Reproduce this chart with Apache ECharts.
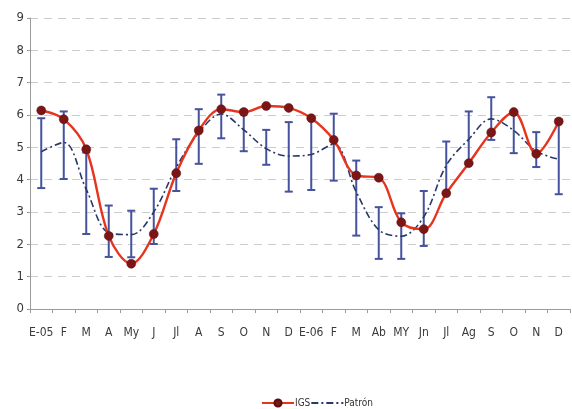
<!DOCTYPE html>
<html>
<head>
<meta charset="utf-8">
<script src="https://cdn.jsdelivr.net/npm/echarts@6/dist/echarts.min.js"></script>
<style>
  html, body { margin: 0; padding: 0; background: #ffffff; }
  #chart { width: 572px; height: 409px; }
</style>
</head>
<body>
<div id="chart"></div>
<script>
// Months, January 2005 to December 2006
var months = ['E-05','F','M','A','My','J','Jl','A','S','O','N','D',
              'E-06','F','M','Ab','MY','Jn','Jl','Ag','S','O','N','D'];
var yTicks = { min: 0, max: 9, step: 1 };

// IGS index by month
var igs = [6.14, 5.87, 4.94, 2.26, 1.40, 2.32, 4.20, 5.52, 6.18, 6.09, 6.28, 6.22,
           5.90, 5.23, 4.13, 4.06, 2.68, 2.47, 3.58, 4.51, 5.46, 6.09, 4.80, 5.80];
// Seasonal pattern
var patron = [4.86, 5.15, 3.70, 2.36, 2.30, 3.00, 4.38, 5.45, 6.03, 5.54, 4.96, 4.73,
              4.78, 5.10, 3.62, 2.45, 2.25, 2.85, 4.44, 5.25, 5.88, 5.52, 4.88, 4.63];
// Band limits around the pattern
var bandHigh = [5.90, 6.11, 4.84, 3.20, 3.04, 3.72, 5.25, 6.18, 6.63, 6.16, 5.54, 5.78,
                5.92, 6.04, 4.59, 3.15, 2.96, 3.65, 5.18, 6.11, 6.55, 6.09, 5.47, 5.85];
var bandLow  = [3.74, 4.02, 2.32, 1.61, 1.60, 2.01, 3.65, 4.49, 5.28, 4.88, 4.46, 3.63,
                3.68, 3.97, 2.27, 1.55, 1.55, 1.95, 3.59, 4.51, 5.23, 4.82, 4.39, 3.55];

var FONT = "'Liberation Sans Narrow', 'Arial Narrow', 'DejaVu Sans Condensed', sans-serif";
var BAR_COLOR = '#46529c';

var barData = months.map(function (m, i) { return [i, bandLow[i], bandHigh[i]]; });

function renderBar(params, api) {
  var x = api.value(0);
  var lo = api.coord([x, api.value(1)]);
  var hi = api.coord([x, api.value(2)]);
  var cap = 4;
  var style = { stroke: BAR_COLOR, lineWidth: 2, fill: null };
  return {
    type: 'group',
    children: [
      { type: 'line', shape: { x1: lo[0], y1: lo[1], x2: hi[0], y2: hi[1] }, style: style },
      { type: 'line', shape: { x1: hi[0] - cap, y1: hi[1], x2: hi[0] + cap, y2: hi[1] }, style: style },
      { type: 'line', shape: { x1: lo[0] - cap, y1: lo[1], x2: lo[0] + cap, y2: lo[1] }, style: style }
    ]
  };
}

var chart = echarts.init(document.getElementById('chart'));
chart.setOption({
  animation: false,
  backgroundColor: '#ffffff',
  grid: { left: 30, right: 2, top: 18, bottom: 100, containLabel: false },
  xAxis: {
    type: 'category',
    data: months,
    boundaryGap: true,
    axisLine: { lineStyle: { color: '#9a9a9a', width: 1 } },
    axisTick: { show: true, length: 4, lineStyle: { color: '#9a9a9a' } },
    axisLabel: { interval: 0, color: '#3a3a3a', fontFamily: FONT, fontSize: 12, margin: 18 },
    splitLine: { show: false }
  },
  yAxis: {
    type: 'value',
    min: yTicks.min,
    max: yTicks.max,
    interval: yTicks.step,
    axisLine: { show: true, lineStyle: { color: '#9a9a9a', width: 1 } },
    axisTick: { show: true, length: 3, lineStyle: { color: '#9a9a9a' } },
    axisLabel: { color: '#3a3a3a', fontFamily: FONT, fontSize: 13, margin: 6 },
    splitLine: { show: true, lineStyle: { color: '#cccccc', type: [8, 6], width: 1 } }
  },
  legend: {
    top: 393,
    left: 256,
    itemWidth: 32,
    itemHeight: 9,
    itemGap: 0,
    data: [
      { name: 'IGS' },
      { name: 'Patrón', itemStyle: { opacity: 0 } }
    ],
    textStyle: { fontFamily: FONT, fontSize: 10, color: '#333333', padding: [0, 0, 0, -4] }
  },
  series: [
    {
      name: 'band',
      type: 'custom',
      renderItem: renderBar,
      data: barData,
      encode: { x: 0, y: [1, 2] },
      z: 2,
      silent: true
    },
    {
      name: 'Patrón',
      type: 'line',
      data: patron,
      smooth: 0.35,
      showSymbol: false,
      symbol: 'none',
      lineStyle: { color: '#2a3868', width: 1.6, type: [7, 3, 2, 3] },
      itemStyle: { color: '#2a3868' },
      z: 3
    },
    {
      name: 'IGS',
      type: 'line',
      data: igs,
      smooth: 0.35,
      symbol: 'circle',
      symbolSize: 9,
      lineStyle: { color: '#e6351f', width: 2.4 },
      itemStyle: { color: '#7c1616', borderColor: '#5a0e0e', borderWidth: 0.5 },
      z: 4
    }
  ]
});
</script>
</body>
</html>
